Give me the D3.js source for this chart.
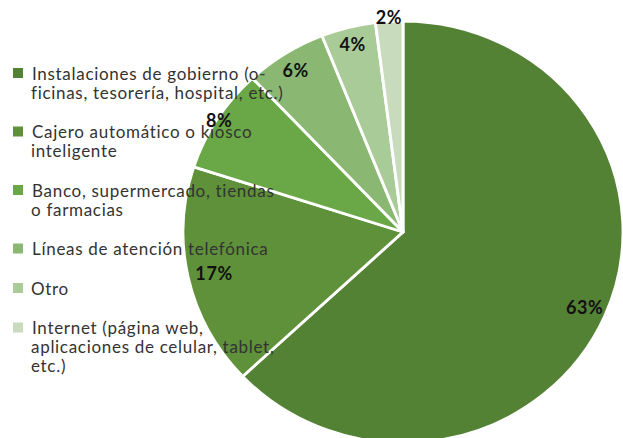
<!DOCTYPE html>
<html><head><meta charset="utf-8">
<script src="https://cdn.jsdelivr.net/npm/d3@7"></script>
<style>html,body{margin:0;padding:0;background:#fff;}svg{display:block;}</style>
</head><body>
<svg id="c" width="623" height="438"></svg>
<script>
const categories = [
  "Instalaciones de gobierno (o-\nficinas, tesorería, hospital, etc.)",
  "Cajero automático o kiosco\ninteligente",
  "Banco, supermercado, tiendas\no farmacias",
  "Líneas de atención telefónica",
  "Otro",
  "Internet (página web,\naplicaciones de celular, tablet,\netc.)"
];
const values = [63, 17, 8, 6, 4, 2];
const labels = ["63%", "17%", "8%", "6%", "4%", "2%"];
const colors = ["#548235", "#5e9139", "#6aa746", "#8ab872", "#a9cb97", "#c8dcbd"];
const legendLead = [true, true, true, true, false, true];
const labelRadiusFactor = [0.9, 0.88, 0.99, 0.91, 0.92, 1.02];

const svg = d3.select("#c");
const cx = 403, cy = 232, ry = 211, rx = 220;
const sx = rx / ry;

const pie = d3.pie().sort(null).value(d => d);
const arcs = pie(values);
const arc = d3.arc().innerRadius(0).outerRadius(ry);

const g = svg.append("g").attr("transform", `translate(${cx},${cy}) scale(${sx},1)`);
g.selectAll("path").data(arcs).join("path")
  .attr("d", arc)
  .attr("fill", (d, i) => colors[i])
  .attr("stroke", "#fff")
  .attr("stroke-width", 2.8)
  .attr("stroke-linejoin", "round");

// legend
const leg = svg.append("g");
let y = 73;
categories.forEach((c, i) => {
  const lines = c.split("\n");
  leg.append("rect").attr("x", 13).attr("y", y - 5).attr("width", 10).attr("height", 10).attr("fill", colors[i]);
  lines.forEach((ln, j) => {
    leg.append("text")
      .attr("x", j === 0 && legendLead[i] ? 32 : 31)
      .attr("y", y + j * 19)
      .attr("dominant-baseline", "central")
      .attr("font-family", "Lato, 'Open Sans', sans-serif")
      .attr("font-size", 17)
      .attr("letter-spacing", 0.7)
      .attr("fill", "#333")
      .text(j === 0 && legendLead[i] ? " " + ln : ln);
  });
  y += (lines.length - 1) * 19 + 39.5;
});

// data labels
svg.append("g").selectAll("text").data(arcs).join("text")
  .attr("x", (d, i) => { const a = (d.startAngle + d.endAngle) / 2; return cx + Math.sin(a) * rx * labelRadiusFactor[i]; })
  .attr("y", (d, i) => { const a = (d.startAngle + d.endAngle) / 2; return cy - Math.cos(a) * ry * labelRadiusFactor[i]; })
  .attr("text-anchor", "middle")
  .attr("dominant-baseline", "central")
  .attr("font-family", "Lato, 'Open Sans', sans-serif")
  .attr("font-weight", "bold")
  .attr("font-size", 18)
  .attr("letter-spacing", 0.6)
  .attr("fill", "#111")
  .text((d, i) => labels[i]);
</script>
</body></html>
